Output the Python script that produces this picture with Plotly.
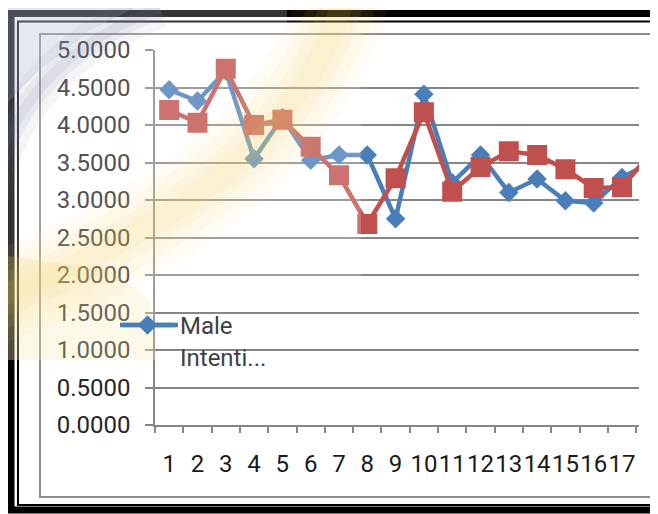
import plotly.graph_objects as go

categories = [str(i) for i in range(1, 19)]
male_values = [4.47, 4.32, 4.72, 3.55, 4.10, 3.53, 3.60, 3.60, 2.75, 4.41,
               3.23, 3.60, 3.10, 3.28, 2.99, 2.96, 3.30, 3.50]
female_values = [4.20, 4.03, 4.75, 4.00, 4.07, 3.71, 3.33, 2.68, 3.29, 4.17,
                 3.11, 3.44, 3.65, 3.60, 3.41, 3.16, 3.17, 3.62]
y_tick_values = [0, 0.5, 1, 1.5, 2, 2.5, 3, 3.5, 4, 4.5, 5]
y_tick_labels = ["%.4f" % v for v in y_tick_values]
x_tick_labels = [str(i) for i in range(1, 18)]

OFF = 8  # page body margin
W, H = 658, 514
FW, FH = W - OFF, H - OFF  # figure size so the page does not scroll
L, R, T, B = 155, 639, 50, 425  # plot area in page pixels


def P(px, py):
    return "%.4f,%.4f" % ((px - L) / (R - L), (B - py) / (B - T))


def path(points, close=True):
    s = "M" + " L".join(P(x, y) for x, y in points)
    return s + (" Z" if close else "")


fig = go.Figure()
fig.add_trace(go.Scatter(
    x=categories, y=male_values, name="Male<br>Intenti...",
    mode="lines+markers",
    line=dict(color="#4a7ebb", width=4.5),
    marker=dict(symbol="diamond", size=15, color="#4a7ebb"),
    showlegend=True, cliponaxis=True))
fig.add_trace(go.Scatter(
    x=categories, y=female_values, name="Female",
    mode="lines+markers",
    line=dict(color="#c0504d", width=4.5),
    marker=dict(symbol="square", size=20, color="#c0504d"),
    showlegend=False, cliponaxis=True))

shapes = []
# chart area border
shapes.append(dict(type="path", xref="paper", yref="paper", layer="below",
                   path="M" + P(700, 34) + " L" + P(40, 34) + " L" + P(40, 497) + " L" + P(700, 497),
                   line=dict(color="#8c8c8c", width=2)))
# legend line extension
shapes.append(dict(type="line", xref="paper", yref="paper", layer="above",
                   x0=(123 - L) / (R - L), x1=(178 - L) / (R - L),
                   y0=(B - 325) / (B - T), y1=(B - 325) / (B - T),
                   line=dict(color="#4a7ebb", width=4.5)))
# black frames
shapes.append(dict(type="path", xref="paper", yref="paper", layer="above",
                   path="M" + P(700, 13.5) + " L" + P(11, 13.5) + " L" + P(11, 510) + " L" + P(700, 510),
                   line=dict(color="#000000", width=7)))
shapes.append(dict(type="path", xref="paper", yref="paper", layer="above",
                   path="M" + P(700, 21.5) + " L" + P(18, 21.5) + " L" + P(18, 505) + " L" + P(700, 505),
                   line=dict(color="#000000", width=2)))

# translucent photo overlay (approximation)
overlay = [(0, 0), (287, 0), (287, 28), (361, 28), (361, 290), (155, 290), (155, 360), (0, 360)]
shapes.append(dict(type="path", xref="paper", yref="paper", layer="above",
                   path=path(overlay), fillcolor="rgba(255,255,255,0.2)", line=dict(width=0)))
# soft yellow band
yb = "M" + P(345, -5) + " Q" + P(290, 190) + " " + P(-10, 300)
for w, op in [(90, 0.06), (65, 0.07), (42, 0.08), (22, 0.09)]:
    shapes.append(dict(type="path", xref="paper", yref="paper", layer="above",
                       path=yb, line=dict(color="#f5d35a", width=w), opacity=op))
shapes.append(dict(type="path", xref="paper", yref="paper", layer="above",
                   path=path([(0, 255), (110, 270), (150, 300), (155, 360), (0, 360)]),
                   fillcolor="rgba(245,215,110,0.16)", line=dict(width=0)))
# blue-grey haze
shapes.append(dict(type="path", xref="paper", yref="paper", layer="above",
                   path=path([(0, 0), (150, 0), (90, 30), (40, 70), (0, 110)]),
                   fillcolor="rgba(150,165,195,0.25)", line=dict(width=0)))
bs = "M" + P(-10, 190) + " Q" + P(20, 60) + " " + P(160, 8)
for w, op in [(40, 0.07), (22, 0.09), (10, 0.10)]:
    shapes.append(dict(type="path", xref="paper", yref="paper", layer="above",
                       path=bs, line=dict(color="#6f7fa0", width=w), opacity=op))

fig.update_layout(
    width=FW, height=FH,
    margin=dict(l=L - OFF, r=FW - (R - OFF), t=T - OFF, b=FH - (B - OFF), pad=0),
    paper_bgcolor="#ffffff", plot_bgcolor="#ffffff",
    font=dict(family="Roboto, Arial, sans-serif", size=24, color="#262626"),
    shapes=shapes,
    showlegend=True,
    legend=dict(x=(115 - L) / (R - L), y=(B - 303) / (B - T), xanchor="left", yanchor="top",
                bgcolor="rgba(0,0,0,0)", font=dict(size=24, color="#404040"),
                itemwidth=55, valign="top", tracegroupgap=0),
    xaxis=dict(type="category", range=[-0.5, 16.6],
               tickmode="array", tickvals=x_tick_labels, ticktext=x_tick_labels,
               tickson="boundaries", ticks="outside", ticklen=6, tickwidth=1.5,
               tickcolor="#868686", tickangle=0,
               showline=True, linecolor="#868686", linewidth=2,
               showgrid=False, zeroline=False, ticklabelstandoff=16,
               tickfont=dict(size=24, color="#1a1a1a")),
    yaxis=dict(range=[0, 5], tickmode="array", tickvals=y_tick_values, ticktext=y_tick_labels,
               ticks="outside", ticklen=8, tickwidth=1.5, tickcolor="#868686",
               showline=True, linecolor="#868686", linewidth=1.5,
               showgrid=True, gridcolor="#868686", gridwidth=1.5, zeroline=False,
               ticklabelstandoff=10, tickfont=dict(size=24, color="#262626")),
)

fig.write_html("out.html")
